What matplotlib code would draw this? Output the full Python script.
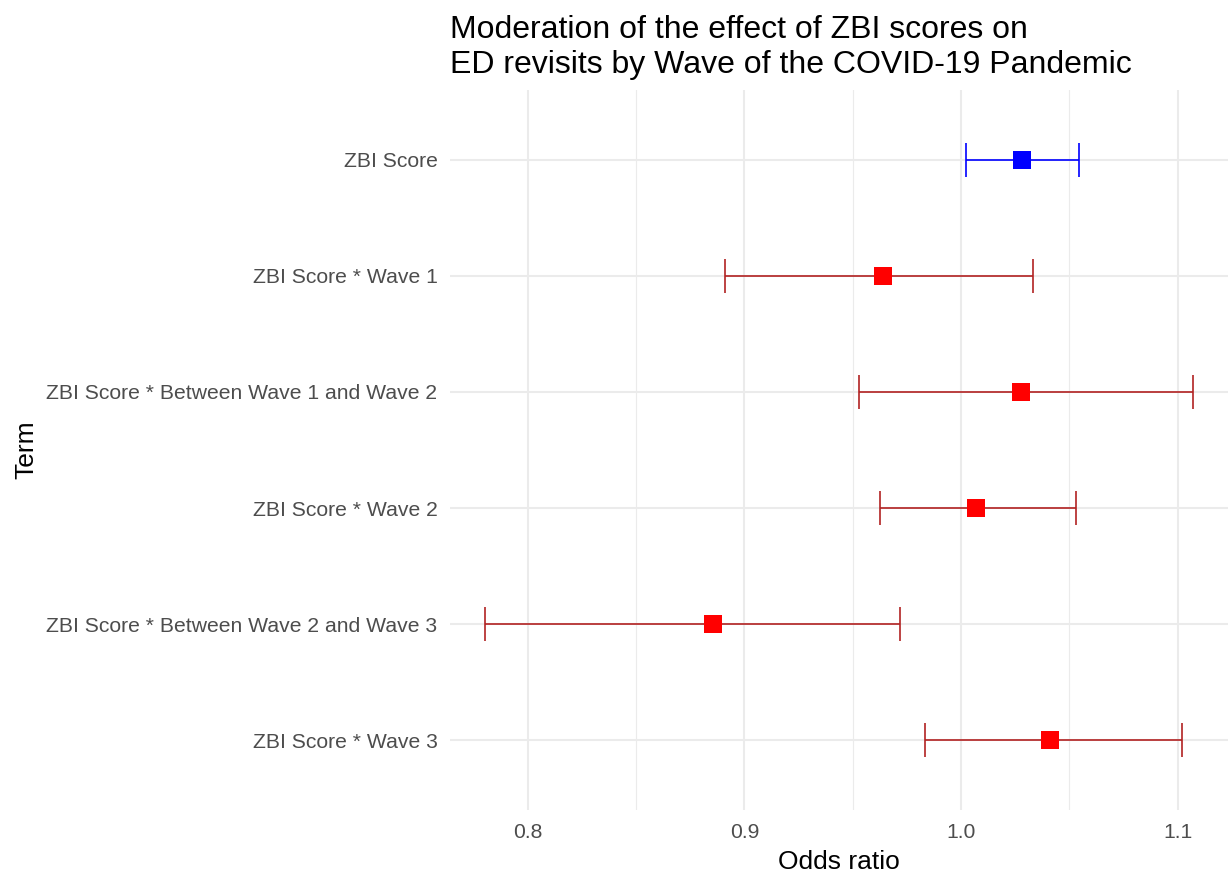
import numpy as np
import matplotlib.pyplot as plt
from matplotlib.ticker import MultipleLocator

plt.rcParams['font.family'] = ['Liberation Sans', 'DejaVu Sans']

# --- Data ---
terms = ["ZBI Score",
         "ZBI Score * Wave 1",
         "ZBI Score * Between Wave 1 and Wave 2",
         "ZBI Score * Wave 2",
         "ZBI Score * Between Wave 2 and Wave 3",
         "ZBI Score * Wave 3"]
odds_ratio = [1.028, 0.964, 1.0275, 1.0067, 0.8854, 1.0409]
ci_low = [1.0023, 0.8908, 0.9529, 0.9626, 0.7804, 0.9831]
ci_high = [1.0543, 1.0330, 1.1069, 1.0529, 0.9718, 1.1021]
point_colors = ["#0000FF", "#FF0000", "#FF0000", "#FF0000", "#FF0000", "#FF0000"]
bar_colors = ["#0000FF", "#B22222", "#B22222", "#B22222", "#B22222", "#B22222"]

# --- Figure ---
fig = plt.figure(figsize = (12.31, 8.76), dpi = 100)
ax = fig.add_axes([0.3656, 0.0753, 0.632, 0.822])

ypos = np.arange(len(terms))[::-1]

for i in range(len(terms)):
    ax.errorbar(odds_ratio[i], ypos[i],
                xerr = [[odds_ratio[i] - ci_low[i]], [ci_high[i] - odds_ratio[i]]],
                fmt = "none",
                ecolor = bar_colors[i],
                elinewidth = 1.2,
                capsize = 12,
                capthick = 1.2,
                zorder = 3)
    ax.scatter(odds_ratio[i], ypos[i],
               s = 155,
               marker = "s",
               color = point_colors[i],
               linewidth = 0,
               zorder = 4)

# --- Axes ---
lo = min(ci_low)
hi = max(ci_high)
pad = (hi - lo) * 0.05
ax.set_xlim(lo - pad, hi + pad)
ax.set_ylim(-0.6, len(terms) - 0.4)

ax.xaxis.set_minor_locator(MultipleLocator(0.05))
ax.set_yticks(ypos)
ax.set_yticklabels(terms)
ax.set_xticks([0.8, 0.9, 1.0, 1.1])
ax.set_xticklabels(["0.8", "0.9", "1.0", "1.1"])

for s in ax.spines.values():
    s.set_visible(False)

ax.grid(which = "major", color = "#EBEBEB", linewidth = 1.5)
ax.grid(which = "minor", axis = "x", color = "#EBEBEB", linewidth = 0.8)
ax.set_axisbelow(True)

ax.tick_params(axis = "both", which = "both", length = 0,
               labelsize = 15.2, labelcolor = "#4D4D4D")
ax.tick_params(axis = "y", pad = 9)
ax.tick_params(axis = "x", pad = 9)

ax.set_xlabel("Odds ratio", fontsize = 19, labelpad = 6)
ax.set_ylabel("Term", fontsize = 19, labelpad = 6)

ax.set_title("Moderation of the effect of ZBI scores on\nED revisits by Wave of the COVID-19 Pandemic",
             fontsize = 23, loc = "left", pad = 12, linespacing = 1.25)

fig.savefig("out.png", dpi = 100)
